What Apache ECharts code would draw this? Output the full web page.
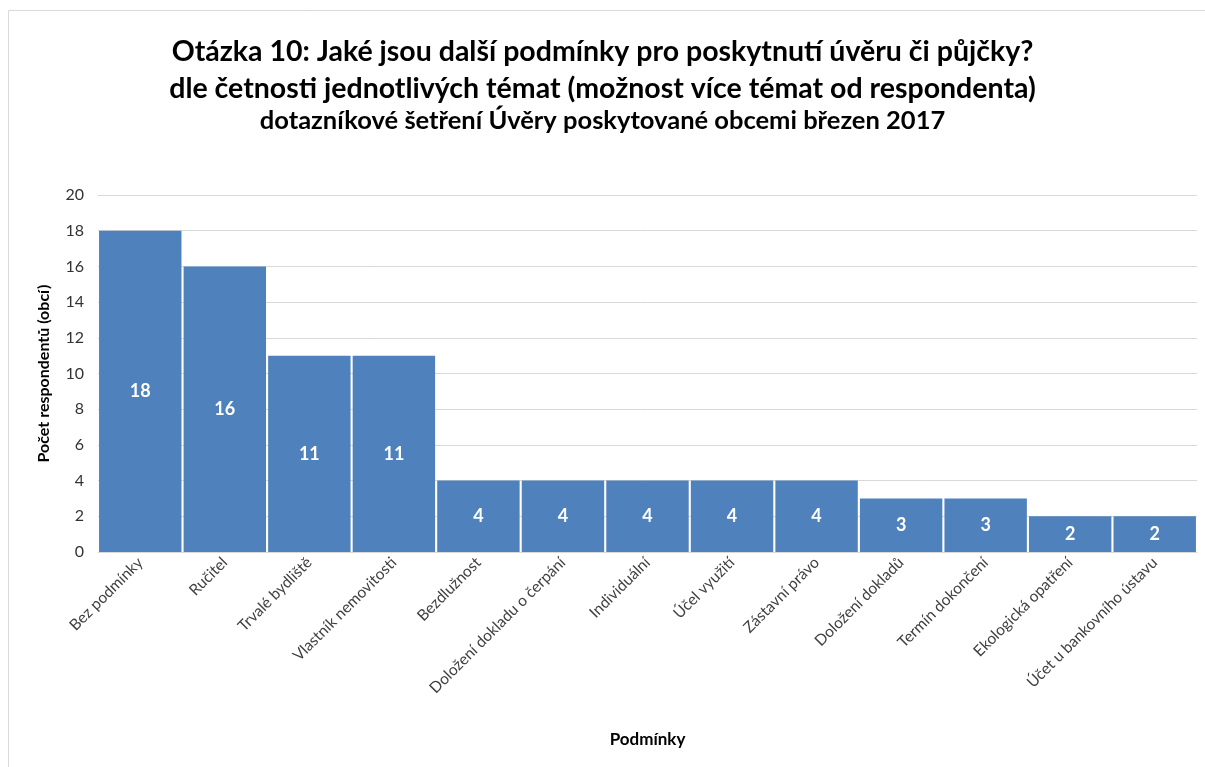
<!DOCTYPE html>
<html><head><meta charset="utf-8">
<script src="https://cdn.jsdelivr.net/npm/echarts@6/dist/echarts.min.js"></script>
<style>html,body{margin:0;padding:0;background:#fff;}#c{width:1205px;height:767px;}</style>
</head><body><div id="c"></div>
<script>
const categories = ["Bez podmínky","Ručitel","Trvalé bydliště","Vlastník nemovitosti","Bezdlužnost","Doložení dokladu o čerpání","Individuální","Účel využití","Zástavní právo","Doložení dokladů","Termín dokončení","Ekologická opatření","Účet u bankovního ústavu"];
const counts = [18,16,11,11,4,4,4,4,4,3,3,2,2];
const titleLines = ["Otázka 10: Jaké jsou další podmínky pro poskytnutí úvěru či půjčky?","dle četnosti jednotlivých témat (možnost více témat od respondenta)","dotazníkové šetření Úvěry poskytované obcemi březen 2017"];
const yName = "Počet respondentů (obcí)";
const xName = "Podmínky";
const F = "Lato, 'Open Sans', sans-serif";
const chart = echarts.init(document.getElementById('c'));
chart.setOption({
  animation:false,
  backgroundColor:'#fff',
  graphic:[{type:'rect',shape:{x:8.5,y:10.5,width:1210,height:770},style:{fill:'none',stroke:'#D9D9D9',lineWidth:1}}],
  title:{
    text: titleLines[0]+'\n'+titleLines[1],
    subtext: titleLines[2],
    left:'center', top:28, itemGap:0,
    textStyle:{fontFamily:F,fontWeight:'bold',fontSize:28.5,color:'#000',lineHeight:37},
    subtextStyle:{fontFamily:F,fontWeight:'bold',fontSize:25.5,color:'#000',lineHeight:28}
  },
  grid:{left:98,right:8,top:195,bottom:215,containLabel:false},
  xAxis:{type:'category',data:categories,
    name:xName,nameLocation:'middle',nameGap:179,
    nameTextStyle:{fontFamily:F,fontWeight:'bold',fontSize:17,color:'#000'},
    axisLine:{lineStyle:{color:'#D9D9D9',width:1}},axisTick:{show:false},
    axisLabel:{rotate:45,interval:0,fontFamily:F,fontSize:15.5,color:'#404040',margin:8}},
  yAxis:{type:'value',min:0,max:20,interval:2,
    name:yName,nameLocation:'middle',nameGap:46,
    nameTextStyle:{fontFamily:F,fontWeight:'bold',fontSize:16,color:'#000'},
    axisLine:{show:false},axisTick:{show:false},
    axisLabel:{fontFamily:F,fontSize:16,color:'#333',margin:14},
    splitLine:{lineStyle:{color:'#D9D9D9',width:1}}},
  series:[{type:'bar',data:counts,barCategoryGap:'2.5%',
    itemStyle:{color:'#4F81BD'},
    label:{show:true,position:'inside',fontFamily:F,fontWeight:'bold',fontSize:18,color:'#fff'}}]
});
</script></body></html>
